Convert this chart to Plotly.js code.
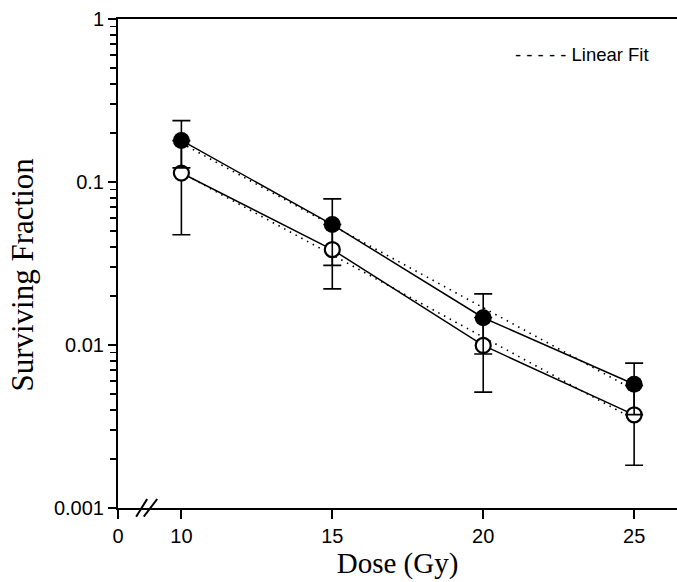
<!DOCTYPE html>
<html>
<head>
<meta charset="utf-8">
<script src="https://cdn.plot.ly/plotly-3.0.1.min.js"></script>
<style>html,body{margin:0;padding:0;background:#fff;}#chart{width:677px;height:582px;}</style>
</head>
<body>
<div id="chart"></div>
<script>
// Data
const doses = [10, 15, 20, 25];
const sfFilled = [0.18, 0.0548, 0.0147, 0.00574];
const errFilled = [0.058, 0.024, 0.0059, 0.0020];
const sfOpen = [0.1135, 0.0385, 0.00994, 0.00373];
const errOpen = [0.066, 0.0164, 0.0048, 0.0019];
const fitDoses = [10, 25];
const fitFilled = [0.173, 0.0053];
const fitOpen = [0.114, 0.0035];
const xTickVals = [7.9, 10, 15, 20, 25];
const xTickText = ["0", "10", "15", "20", "25"];
const yTickVals = [0.001, 0.01, 0.1, 1];
const yTickText = ["0.001", "0.01", "0.1", "1"];
const legendText = "- - - - - Linear Fit";
const yTitleText = "Surviving Fraction";
const xTitleText = "Dose (Gy)";

const dotDash = "1.5px,5px";

const traces = [
  {x: fitDoses, y: fitFilled, mode: "lines", line: {color: "#000", width: 1.6, dash: dotDash}, showlegend: false, hoverinfo: "skip"},
  {x: fitDoses, y: fitOpen, mode: "lines", line: {color: "#000", width: 1.6, dash: dotDash}, showlegend: false, hoverinfo: "skip"},
  {x: doses, y: sfOpen, mode: "lines+markers", line: {color: "#000", width: 1.5},
   marker: {symbol: "circle", size: 15, color: "#fff", line: {color: "#000", width: 2.2}},
   error_y: {type: "data", array: errOpen, visible: true, color: "#000", thickness: 1.6, width: 9},
   showlegend: false},
  {x: doses, y: sfFilled, mode: "lines+markers", line: {color: "#000", width: 1.5},
   marker: {symbol: "circle", size: 17, color: "#000", line: {color: "#000", width: 0}},
   error_y: {type: "data", array: errFilled, visible: true, color: "#000", thickness: 1.6, width: 9},
   showlegend: false}
];

const layout = {
  width: 677, height: 582,
  margin: {l: 118, r: 0, t: 19, b: 74},
  paper_bgcolor: "#fff", plot_bgcolor: "#fff",
  showlegend: false,
  font: {family: "Liberation Sans, Arial, sans-serif", color: "#000"},
  xaxis: {
    range: [7.9, 26.42], tickmode: "array", tickvals: xTickVals, ticktext: xTickText,
    ticks: "outside", ticklen: 9, tickwidth: 2, tickcolor: "#000",
    showline: true, linewidth: 2, linecolor: "#000", mirror: true,
    showgrid: false, zeroline: false,
    tickfont: {size: 20, family: "Liberation Sans, Arial, sans-serif"},
    title: {text: xTitleText, font: {size: 29, family: "Liberation Serif, Times New Roman, serif"}, standoff: 6}
  },
  yaxis: {
    type: "log", range: [-3, 0], tickmode: "array", tickvals: yTickVals, ticktext: yTickText,
    ticks: "outside", ticklen: 8, tickwidth: 2, tickcolor: "#000",
    minor: {ticks: "outside", ticklen: 6, tickwidth: 1.6, tickcolor: "#000", dtick: "D1", showgrid: false},
    showline: true, linewidth: 2, linecolor: "#000", mirror: false,
    showgrid: false, zeroline: false,
    tickfont: {size: 20, family: "Liberation Sans, Arial, sans-serif"}
  },
  shapes: [
    {type: "line", xref: "paper", yref: "paper", x0: 0.0325, y0: -0.0178, x1: 0.0522, y1: 0.0184, line: {color: "#000", width: 2}},
    {type: "line", xref: "paper", yref: "paper", x0: 0.0461, y0: -0.0178, x1: 0.0701, y1: 0.0184, line: {color: "#000", width: 2}}
  ],
  annotations: [
    {xref: "paper", yref: "paper", x: 0.9535, y: 0.928, xanchor: "right", yanchor: "middle", showarrow: false,
     text: legendText, font: {size: 18.5, family: "Liberation Sans, Arial, sans-serif", color: "#000"}},
    {xref: "paper", yref: "paper", x: -0.1707, y: 0.4765, xanchor: "center", yanchor: "middle", showarrow: false,
     textangle: -90, text: yTitleText, font: {size: 31, family: "Liberation Serif, Times New Roman, serif", color: "#000"}}
  ]
};

Plotly.newPlot("chart", traces, layout, {displayModeBar: false, staticPlot: true});
</script>
</body>
</html>
